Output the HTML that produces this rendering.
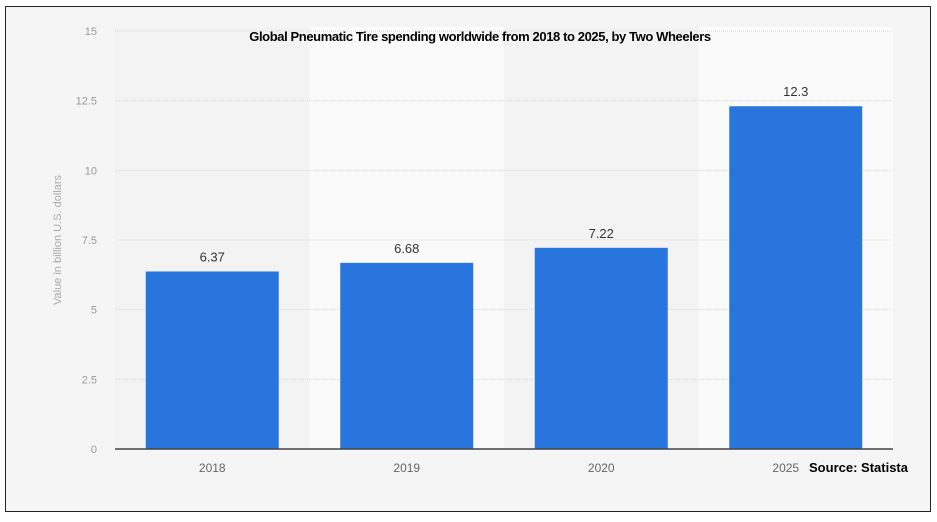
<!DOCTYPE html>
<html><head><meta charset="utf-8"><style>
html,body{margin:0;padding:0;background:#fff;}
body{width:937px;height:517px;overflow:hidden;position:relative;font-family:"Liberation Sans",Arial,sans-serif;}
</style></head><body>
<svg width="937" height="517" xmlns="http://www.w3.org/2000/svg">
<rect x="0" y="0" width="937" height="517" fill="#ffffff"/>
<rect x="5.5" y="6.5" width="925" height="505" fill="#f5f5f5" stroke="#222" stroke-width="1"/>
<g id="bands"></g>
<g id="grid"></g>
<g id="bars"></g>
<g id="labels"></g>
<line x1="115" y1="449" x2="893" y2="449" stroke="#444" stroke-width="1.5"/>
<text x="480" y="41" text-anchor="middle" font-family="'Liberation Sans Narrow','Liberation Sans',sans-serif" font-size="13" font-weight="bold" fill="#000" letter-spacing="-0.4">Global Pneumatic Tire spending worldwide from 2018 to 2025, by Two Wheelers</text>
<text transform="translate(61,240) rotate(-90)" text-anchor="middle" font-size="11" fill="#aaa">Value in billion U.S. dollars</text>
<text x="908" y="472" text-anchor="end" font-family="'Liberation Sans Narrow','Liberation Sans',sans-serif" font-size="13" font-weight="bold" fill="#000">Source: Statista</text>
</svg>
<script>
const categories=["2018","2019","2020","2025"];
const values=[6.37,6.68,7.22,12.3];
const valueLabels=["6.37","6.68","7.22","12.3"];
const yTicks=[0,2.5,5,7.5,10,12.5,15];
const yTickLabels=["0","2.5","5","7.5","10","12.5","15"];
const NS="http://www.w3.org/2000/svg";
const plotL=115,plotR=893,y0=449,yTop=31,yMax=15;
const band=(plotR-plotL)/categories.length;
function yScale(v){return y0-(v/yMax)*(y0-yTop);}
function xBand(i){return plotL+i*band;}
function mk(tag,attrs,parent){const e=document.createElementNS(NS,tag);for(const k in attrs)e.setAttribute(k,attrs[k]);document.getElementById(parent).appendChild(e);return e;}
categories.forEach((c,i)=>{
  const b=mk('rect',{x:xBand(i),y:yTop-4,width:band,height:y0-yTop+4,fill:i%2?'#fafafa':'#f3f3f3'},'bands');
  
  
});
yTicks.forEach((t,i)=>{
  if(t>0){const l=mk('line',{x1:plotL,x2:plotR,y1:yScale(t),y2:yScale(t),stroke:'#d8d8d8','stroke-width':1,'stroke-dasharray':'1,1'},'grid');
  
  }
  const tx=mk('text',{x:97,y:yScale(t)+4,'text-anchor':'end','font-size':'11',fill:'#999'},'grid');
  tx.textContent=yTickLabels[i];
  
  
});
const bw=133;
values.forEach((v,i)=>{
  const cx=xBand(i)+band/2;
  const r=mk('rect',{x:cx-bw/2,y:yScale(v),width:bw,height:y0-yScale(v),fill:'#2876dd'},'bars');
  
  
  const t=mk('text',{x:cx,y:yScale(v)-10,'text-anchor':'middle','font-size':'13',fill:'#333'},'labels');
  t.textContent=valueLabels[i];
  
  
  const xl=mk('text',{x:i===3?cx-10:cx,y:472,'text-anchor':'middle','font-size':'12',fill:'#666'},'labels');
  xl.textContent=categories[i];
  
  
});
</script>
</body></html>
